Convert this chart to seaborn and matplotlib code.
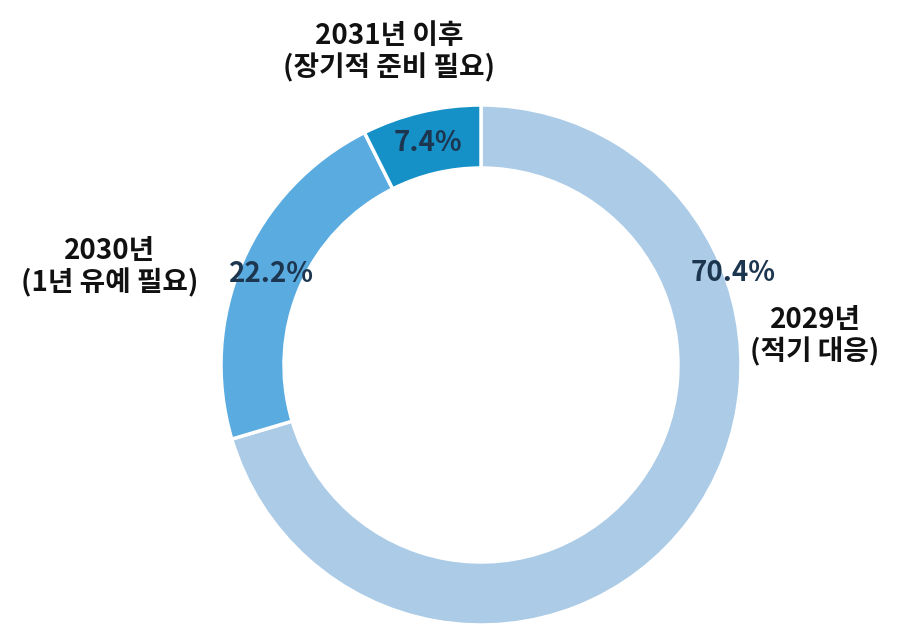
import numpy as np
import matplotlib
matplotlib.use("Agg")
import matplotlib.pyplot as plt
import seaborn as sns

# Survey shares by expected readiness year
labels = ["2029년\n(적기 대응)", "2030년\n(1년 유예 필요)", "2031년 이후\n(장기적 준비 필요)"]
shares = [70.4, 22.2, 7.4]
pct_labels = ["70.4%", "22.2%", "7.4%"]
colors = ["#abcbe7", "#5aabdf", "#1591c8"]

sns.set_theme(style="white")
plt.rcParams['font.family'] = ['Noto Sans CJK KR', 'DejaVu Sans']

fig = plt.figure(figsize=(9, 6.38), dpi=100)
ax = fig.add_axes([0, 0, 1, 1])

cx, cy, R, w = 481, 273, 260, 63
wedges, _ = ax.pie(shares, colors=colors, startangle=90, counterclock=False,
                   radius=R, center=(cx, cy), frame=True,
                   wedgeprops=dict(width=w, edgecolor="white", linewidth=2.5))
ax.set_xlim(0, 900)
ax.set_ylim(0, 638)
ax.set_aspect("equal")
ax.axis("off")

# percent labels: small wedges at mid-ring, big one near its upper right edge
mid_r = R - w / 2
for i, wd in enumerate(wedges):
    ang = np.deg2rad((wd.theta1 + wd.theta2) / 2)
    if i == 0:
        ang = np.deg2rad(20)
        r = 268
    else:
        r = mid_r
    ax.text(cx + r * np.cos(ang), cy + r * np.sin(ang), pct_labels[i],
            ha="center", va="center", fontsize=20, fontweight="bold", color="#1d3650")

# category labels
label_pos = [(815, 302), (110, 371), (389, 586)]
for lab, (x, y) in zip(labels, label_pos):
    ax.text(x, y, lab, ha="center", va="center", fontsize=20, fontweight="bold",
            color="#111111", linespacing=1.15)

fig.savefig("out.png", dpi=100)
